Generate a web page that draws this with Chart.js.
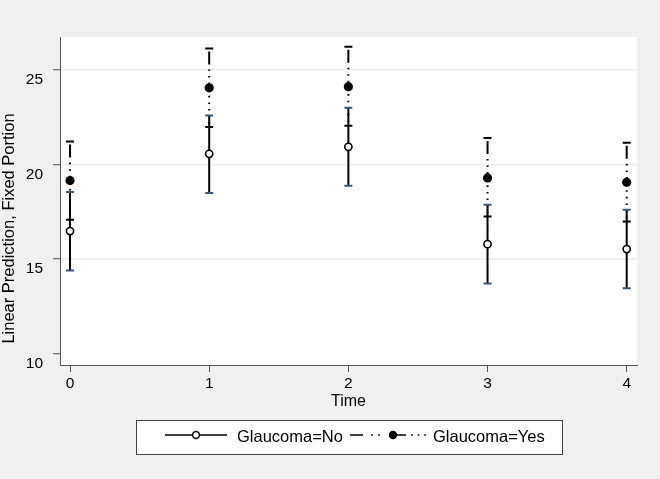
<!DOCTYPE html>
<html><head><meta charset="utf-8">
<script src="https://cdn.jsdelivr.net/npm/chart.js@4"></script>
<style>html,body{margin:0;padding:0;background:#f0f0f0;}#wrap{width:660px;height:479px;}</style>
</head><body><div id="wrap"><canvas id="c" width="660" height="479"></canvas></div>
<script>
const times = [0, 1, 2, 3, 4];
const noMean  = [16.48, 20.55, 20.92, 15.79, 15.53];
const noLower = [14.40, 18.49, 18.87, 13.71, 13.47];
const noUpper = [18.54, 22.57, 22.98, 17.87, 17.60];
const yesMean  = [19.14, 24.03, 24.09, 19.28, 19.05];
const yesLower = [17.08, 21.97, 22.03, 17.25, 16.99];
const yesUpper = [21.20, 26.11, 26.20, 21.39, 21.13];
const yTicks = [10, 15, 20, 25];
const xTicks = [0, 1, 2, 3, 4];
const seriesLabels = ['Glaucoma=No', 'Glaucoma=Yes'];
const yTitle = 'Linear Prediction, Fixed Portion';
const xTitle = 'Time';

const FONT = '"Liberation Sans", Arial, Helvetica, sans-serif';
const BG = '#f0f0f0';

const bgPlugin = {
  id: 'bg',
  beforeDraw(chart) {
    const {ctx, chartArea: a} = chart;
    ctx.save();
    ctx.fillStyle = BG;
    ctx.fillRect(0, 0, chart.width, chart.height);
    ctx.fillStyle = '#ffffff';
    ctx.fillRect(a.left, a.top, a.right - a.left, a.bottom - a.top);
    ctx.restore();
  }
};

const errPlugin = {
  id: 'err',
  beforeDatasetsDraw(chart) {
    const {ctx} = chart;
    const xs = chart.scales.x, ys = chart.scales.y;
    ctx.save();
    // Yes series: dash-dot line, black caps
    times.forEach((t, i) => {
      const x = xs.getPixelForValue(t);
      const yt = ys.getPixelForValue(yesUpper[i]);
      const yb = ys.getPixelForValue(yesLower[i]);
      ctx.strokeStyle = '#000';
      ctx.lineWidth = 2;
      ctx.setLineDash([13, 5, 1.6, 5, 1.6, 5, 1.6, 5, 1.6, 5, 1.6, 5, 1.6, 5, 1.6, 5, 1.6, 5, 1.6, 5]);
      ctx.beginPath(); ctx.moveTo(x, yt + 3); ctx.lineTo(x, yb); ctx.stroke();
      ctx.setLineDash([]);
      ctx.lineWidth = 2;
      ctx.beginPath();
      ctx.moveTo(x - 4, yt); ctx.lineTo(x + 4, yt);
      ctx.moveTo(x - 4, yb); ctx.lineTo(x + 4, yb);
      ctx.stroke();
    });
    // No series: solid line, blue-grey caps
    times.forEach((t, i) => {
      const x = xs.getPixelForValue(t);
      const yt = ys.getPixelForValue(noUpper[i]);
      const yb = ys.getPixelForValue(noLower[i]);
      ctx.strokeStyle = '#000';
      ctx.lineWidth = 2;
      ctx.beginPath(); ctx.moveTo(x, yt); ctx.lineTo(x, yb); ctx.stroke();
      ctx.strokeStyle = '#3a5878';
      ctx.beginPath();
      ctx.moveTo(x - 4, yt); ctx.lineTo(x + 4, yt);
      ctx.moveTo(x - 4, yb); ctx.lineTo(x + 4, yb);
      ctx.stroke();
    });
    ctx.restore();
  }
};

const textPlugin = {
  id: 'texts',
  afterDraw(chart) {
    const {ctx, chartArea: a} = chart;
    ctx.save();
    // y axis title
    ctx.fillStyle = '#000';
    ctx.font = '16.5px ' + FONT;
    ctx.textAlign = 'center';
    ctx.textBaseline = 'alphabetic';
    ctx.translate(13.5, 228.5);
    ctx.rotate(-Math.PI / 2);
    ctx.fillText(yTitle, 0, 0);
    ctx.restore();

    // legend
    ctx.save();
    const lx = 136.5, ly = 420.5, lw = 426, lh = 34;
    ctx.fillStyle = '#fff';
    ctx.fillRect(lx, ly, lw, lh);
    ctx.strokeStyle = '#444';
    ctx.lineWidth = 1;
    ctx.strokeRect(lx, ly, lw, lh);
    const sy = 435;
    // No symbol
    ctx.strokeStyle = '#000';
    ctx.lineWidth = 1.5;
    ctx.beginPath(); ctx.moveTo(165, sy); ctx.lineTo(227, sy); ctx.stroke();
    ctx.beginPath(); ctx.arc(196, sy, 3.4, 0, Math.PI * 2);
    ctx.fillStyle = '#fff'; ctx.fill(); ctx.stroke();
    // Yes symbol
    ctx.beginPath(); ctx.moveTo(350, sy); ctx.lineTo(363, sy); ctx.stroke();
    ctx.fillStyle = '#000';
    [372, 379, 412, 418.5, 425].forEach(d => { ctx.fillRect(d - 0.8, sy - 0.8, 1.6, 1.6); });
    ctx.beginPath(); ctx.moveTo(393, sy); ctx.lineTo(406, sy); ctx.stroke();
    ctx.beginPath(); ctx.arc(393, sy, 4.2, 0, Math.PI * 2); ctx.fill();
    // texts
    ctx.font = '16.5px ' + FONT;
    ctx.textAlign = 'left';
    ctx.textBaseline = 'alphabetic';
    ctx.fillText(seriesLabels[0], 237, 442);
    ctx.fillText(seriesLabels[1], 433, 442);
    ctx.restore();
  }
};

new Chart(document.getElementById('c'), {
  type: 'scatter',
  data: {
    datasets: [
      {
        label: seriesLabels[0],
        data: times.map((t, i) => ({x: t, y: noMean[i]})),
        pointStyle: 'circle', pointRadius: 3.6,
        pointBackgroundColor: '#fff', pointBorderColor: '#000', pointBorderWidth: 1.6,
        showLine: false
      },
      {
        label: seriesLabels[1],
        data: times.map((t, i) => ({x: t, y: yesMean[i]})),
        pointStyle: 'circle', pointRadius: 4.6,
        pointBackgroundColor: '#000', pointBorderColor: '#000', pointBorderWidth: 0,
        showLine: false
      }
    ]
  },
  options: {
    responsive: false,
    animation: false,
    devicePixelRatio: 1,
    layout: {padding: {top: 37, right: 23, left: 0, bottom: 64}},
    plugins: {legend: {display: false}, tooltip: {enabled: false}},
    scales: {
      x: {
        type: 'linear', min: -0.072, max: 4.074,
        afterBuildTicks: s => { s.ticks = xTicks.map(v => ({value: v})); },
        afterFit: s => { s.height = 50; },
        grid: {drawOnChartArea: false, drawTicks: true, tickLength: 7, tickColor: '#555', tickWidth: 1},
        border: {display: true, color: '#555', width: 1},
        ticks: {color: '#000', font: {family: FONT, size: 15.5}, padding: 2, maxRotation: 0, autoSkip: false},
        title: {display: true, text: xTitle, color: '#000', font: {family: FONT, size: 16}, padding: {top: 0, bottom: 4}}
      },
      y: {
        type: 'linear', min: 9.42, max: 26.71,
        afterBuildTicks: s => { s.ticks = yTicks.map(v => ({value: v})); },
        afterFit: s => { s.width = 60; },
        grid: {
          color: c => (c.tick && c.tick.value === 10) ? 'rgba(0,0,0,0)' : '#e8eef0',
          lineWidth: 1.5, drawTicks: true, tickLength: 7, tickColor: '#555', tickWidth: 1
        },
        border: {display: true, color: '#555', width: 1},
        ticks: {color: '#000', font: {family: FONT, size: 15.5}, padding: 10, labelOffset: 10, autoSkip: false}
      }
    }
  },
  plugins: [bgPlugin, errPlugin, textPlugin]
});
</script>
</body></html>
